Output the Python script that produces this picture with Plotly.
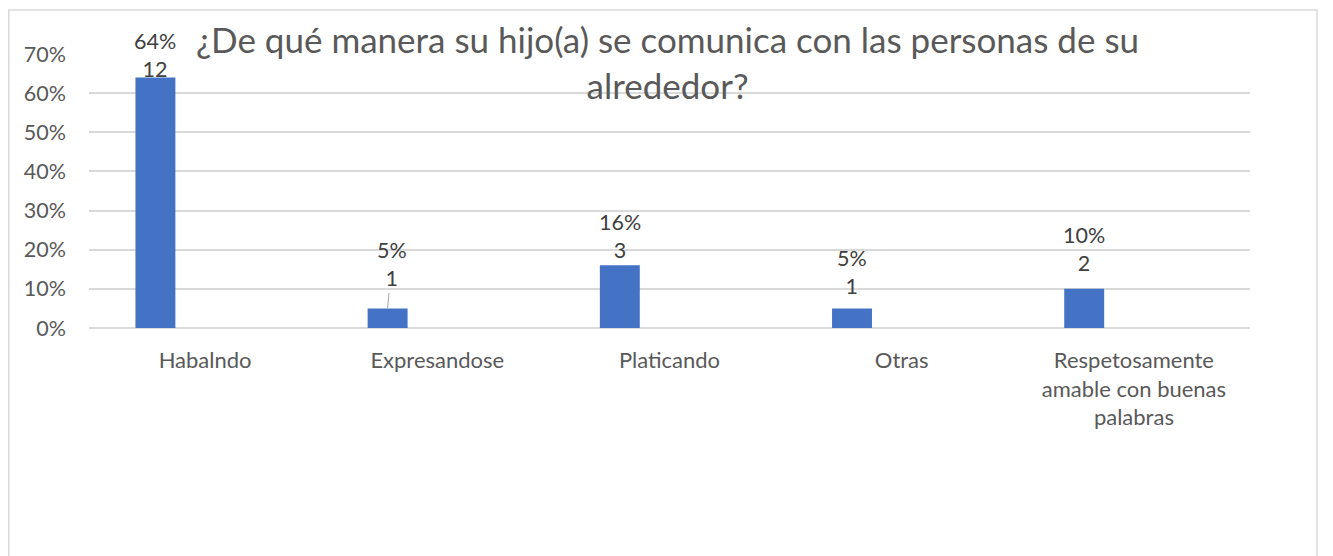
import plotly.graph_objects as go

# ---- data ----
categories = ["Habalndo", "Expresandose", "Platicando", "Otras",
              "Respetosamente amable con buenas palabras"]
tick_labels = ["Habalndo", "Expresandose", "Platicando", "Otras",
               "Respetosamente<br>amable con buenas<br>palabras"]
percent_values = [0.64, 0.05, 0.16, 0.05, 0.10]
counts = [12, 1, 3, 1, 2]
y_ticks = [0, 0.1, 0.2, 0.3, 0.4, 0.5, 0.6, 0.7]
title_text = "¿De qué manera su hijo(a) se comunica con las personas de su<br>alrededor?"

# ---- style / layout ----
# page body has an 8px margin, so figure coords = screenshot coords - 8
OFF = 8
W, H = 1333 - OFF, 556 - OFF
L, R, T, B = 89 - OFF, 1250 - OFF, 54 - OFF, 328 - OFF
FONT = "Lato, 'Noto Sans', sans-serif"
TXT = "#595959"
GRID = "#d9d9d9"
BAR = "#4472C4"
bar_width = 0.172
bar_offset = -0.30
label_lift = [22, 44, 29, 36, 40]

x_idx = list(range(len(categories)))
pw = R - L
ph = B - T

fig = go.Figure()
fig.add_trace(go.Bar(
    x=x_idx, y=percent_values,
    width=bar_width, offset=bar_offset,
    marker=dict(color=BAR, line=dict(width=0)),
    hoverinfo="skip",
))

annotations = []
for i, (p, c) in enumerate(zip(percent_values, counts)):
    xc = i + bar_offset + bar_width / 2
    txt = f"{round(p*100)}%<br>{c}"
    if i == 1:
        annotations.append(dict(
            x=xc, y=p, xref="x", yref="y", text=txt,
            showarrow=True, arrowhead=0, arrowwidth=1, arrowcolor="#a6a6a6",
            ax=4, ay=-label_lift[i], standoff=0,
            font=dict(family=FONT, size=21.5, color="#404040"),
        ))
    else:
        annotations.append(dict(
            x=xc, y=p, xref="x", yref="y", text=txt, showarrow=False,
            yanchor="middle", xanchor="center", yshift=label_lift[i],
            font=dict(family=FONT, size=21.5, color="#404040"),
        ))

# title as annotation (pixel-placed)
annotations.append(dict(
    x=(667 - OFF - L) / pw, y=(B - (16 - OFF)) / ph,
    xref="paper", yref="paper", xanchor="center", yanchor="top",
    text=title_text, showarrow=False,
    font=dict(family=FONT, size=35, color=TXT),
))

fig.add_shape(type="rect", xref="paper", yref="paper",
              x0=(0.75 - L) / pw, x1=(1317 - OFF - L) / pw,
              y0=(B - 600) / ph, y1=(B - (10 - OFF)) / ph,
              line=dict(color=GRID, width=1.5), fillcolor="rgba(0,0,0,0)",
              layer="below")

fig.update_layout(
    width=W, height=H,
    margin=dict(l=L, r=W - R, t=T, b=H - B, pad=0),
    paper_bgcolor="white", plot_bgcolor="white",
    showlegend=False,
    annotations=annotations,
    xaxis=dict(
        tickmode="array", tickvals=x_idx, ticktext=tick_labels,
        range=[-0.5, len(categories) - 0.5],
        showgrid=False, zeroline=False, showline=False, ticks="",
        tickfont=dict(family=FONT, size=22, color=TXT),
        ticklabelstandoff=17,
    ),
    yaxis=dict(
        range=[0, 0.7], tickmode="array", tickvals=y_ticks,
        tickformat=".0%", showgrid=True, gridcolor=GRID, gridwidth=1.5,
        zeroline=True, zerolinecolor=GRID, zerolinewidth=1.5,
        showline=False, ticks="",
        tickfont=dict(family=FONT, size=21.5, color=TXT),
        ticklabelstandoff=22,
    ),
)

fig.write_html("out.html")
